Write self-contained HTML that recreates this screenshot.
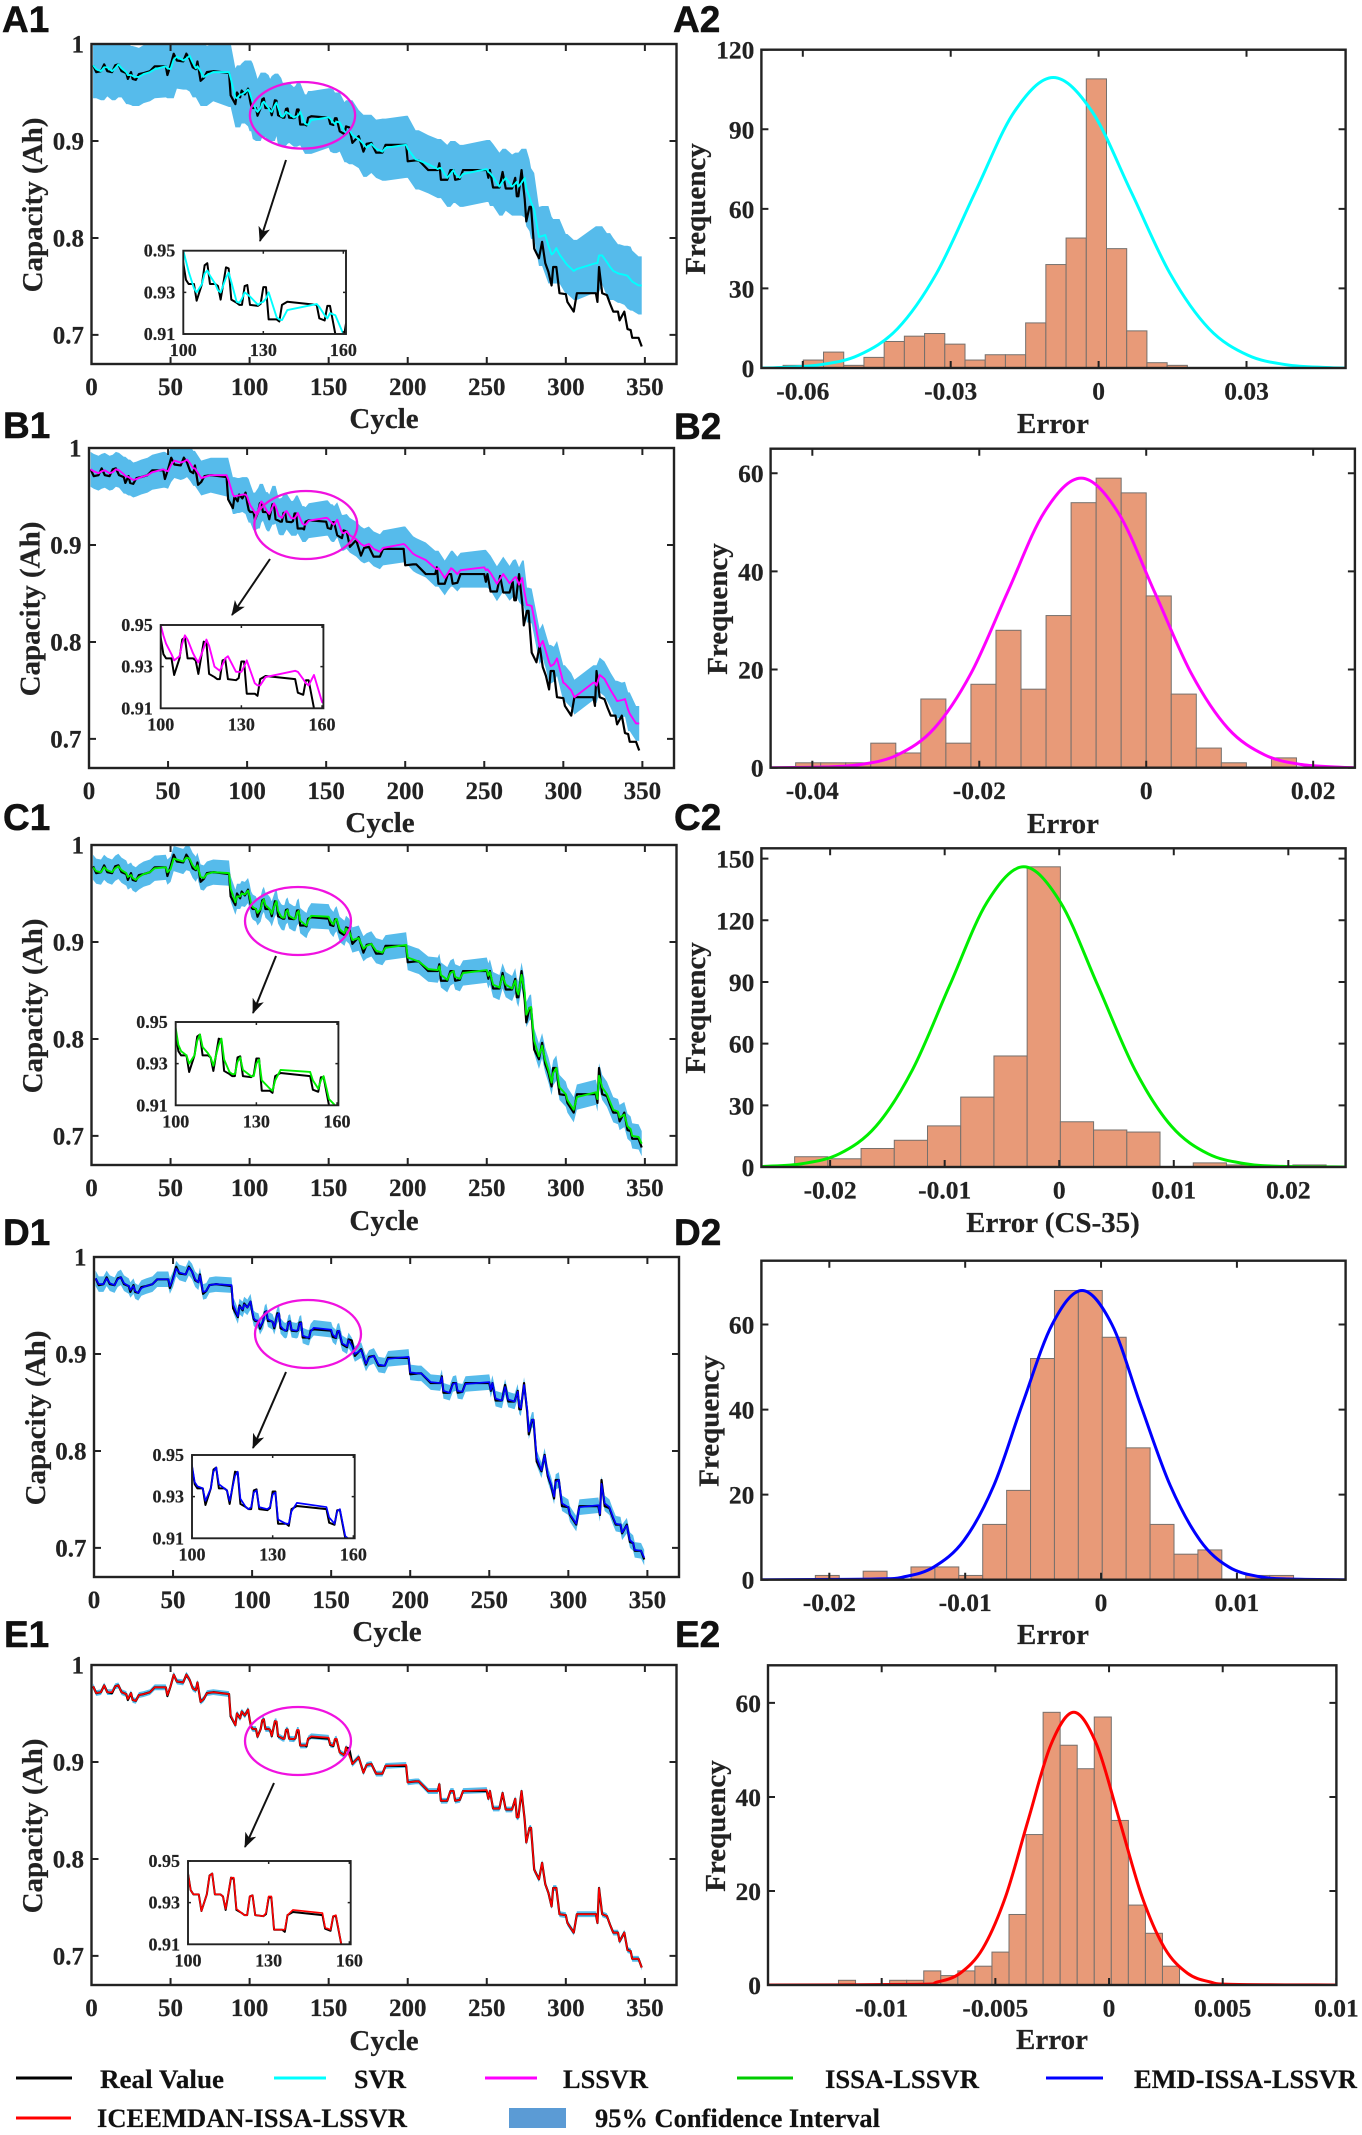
<!DOCTYPE html>
<html lang="en">
<head>
<meta charset="utf-8">
<title>Capacity prediction and error histograms</title>
<style>
html,body{margin:0;padding:0;background:#fff;width:1362px;height:2135px;overflow:hidden;}
svg{display:block;overflow:hidden;}
script{display:none;}
text{font-family:"Liberation Serif",serif;font-weight:bold;fill:#222;stroke:#222;stroke-width:.2;}
.plabel{font-family:"Liberation Sans",sans-serif;font-size:37px;fill:#111;stroke:#111;stroke-width:.5;}
.atitle{font-size:29px;}
.legend{font-size:26px;fill:#111;}
</style>
</head>
<body>
<svg id="fig" xmlns="http://www.w3.org/2000/svg" width="1362" height="2135" viewBox="0 0 1362 2135">
<defs id="defs">
<marker id="arrowhead" markerUnits="userSpaceOnUse" markerWidth="16" markerHeight="12" refX="14" refY="6" orient="auto"><path d="M0,0 L15,6 L0,12 L4,6 Z" fill="#111"/></marker>
</defs>
<rect x="0" y="0" width="1362" height="2135" fill="#fff"/>
<g id="charts"></g>

<g fill="none" stroke="#f012e0" stroke-width="2.3">
<ellipse cx="302.5" cy="115.3" rx="52.6" ry="33.3"/>
<ellipse cx="305.8" cy="525" rx="51.5" ry="34"/>
<ellipse cx="298" cy="921" rx="53" ry="34"/>
<ellipse cx="308" cy="1334" rx="53" ry="34"/>
<ellipse cx="298" cy="1741" rx="53" ry="34"/>
</g>
<g stroke="#111" stroke-width="2" fill="none">
<line x1="286" y1="160" x2="260" y2="241" marker-end="url(#arrowhead)"/>
<line x1="270" y1="559" x2="232" y2="615" marker-end="url(#arrowhead)"/>
<line x1="276" y1="956" x2="253" y2="1013" marker-end="url(#arrowhead)"/>
<line x1="286" y1="1372" x2="253" y2="1448" marker-end="url(#arrowhead)"/>
<line x1="274" y1="1783" x2="245" y2="1847" marker-end="url(#arrowhead)"/>
</g>

<g>
<text class="plabel" x="2" y="32">A1</text>
<text class="plabel" x="673" y="32">A2</text>
<text class="plabel" x="3" y="438">B1</text>
<text class="plabel" x="674" y="439">B2</text>
<text class="plabel" x="3" y="830">C1</text>
<text class="plabel" x="674" y="830">C2</text>
<text class="plabel" x="3" y="1245">D1</text>
<text class="plabel" x="674" y="1245">D2</text>
<text class="plabel" x="4" y="1647">E1</text>
<text class="plabel" x="675" y="1647">E2</text>
</g>

<g>
<text class="atitle" x="384" y="428" text-anchor="middle">Cycle</text>
<text class="atitle" x="380" y="832" text-anchor="middle">Cycle</text>
<text class="atitle" x="384" y="1230" text-anchor="middle">Cycle</text>
<text class="atitle" x="387" y="1641" text-anchor="middle">Cycle</text>
<text class="atitle" x="384" y="2050" text-anchor="middle">Cycle</text>
<text class="atitle" text-anchor="middle" transform="translate(42,205) rotate(-90)">Capacity (Ah)</text>
<text class="atitle" text-anchor="middle" transform="translate(39.5,609) rotate(-90)">Capacity (Ah)</text>
<text class="atitle" text-anchor="middle" transform="translate(42,1006) rotate(-90)">Capacity (Ah)</text>
<text class="atitle" text-anchor="middle" transform="translate(45,1418) rotate(-90)">Capacity (Ah)</text>
<text class="atitle" text-anchor="middle" transform="translate(42,1826) rotate(-90)">Capacity (Ah)</text>
<text class="atitle" x="1053" y="433" text-anchor="middle">Error</text>
<text class="atitle" x="1063" y="833" text-anchor="middle">Error</text>
<text class="atitle" x="1053" y="1232" text-anchor="middle">Error (CS-35)</text>
<text class="atitle" x="1053" y="1644" text-anchor="middle">Error</text>
<text class="atitle" x="1052" y="2049" text-anchor="middle">Error</text>
<text class="atitle" text-anchor="middle" transform="translate(705,209) rotate(-90)">Frequency</text>
<text class="atitle" text-anchor="middle" transform="translate(727,609) rotate(-90)">Frequency</text>
<text class="atitle" text-anchor="middle" transform="translate(705,1008) rotate(-90)">Frequency</text>
<text class="atitle" text-anchor="middle" transform="translate(718.5,1421) rotate(-90)">Frequency</text>
<text class="atitle" text-anchor="middle" transform="translate(725,1826) rotate(-90)">Frequency</text>
</g>

<g>
<g><line x1="16" x2="72" y1="2078" y2="2078" stroke="#000" stroke-width="3"/><text class="legend" x="100" y="2088" textLength="124" lengthAdjust="spacingAndGlyphs">Real Value</text></g>
<g><line x1="274" x2="326" y1="2078" y2="2078" stroke="#00ffff" stroke-width="3"/><text class="legend" x="354" y="2088" textLength="52" lengthAdjust="spacingAndGlyphs">SVR</text></g>
<g><line x1="485" x2="537" y1="2078" y2="2078" stroke="#ff00ff" stroke-width="3"/><text class="legend" x="563" y="2088" textLength="85" lengthAdjust="spacingAndGlyphs">LSSVR</text></g>
<g><line x1="737" x2="793" y1="2078" y2="2078" stroke="#00cc00" stroke-width="3"/><text class="legend" x="825" y="2088" textLength="154" lengthAdjust="spacingAndGlyphs">ISSA-LSSVR</text></g>
<g><line x1="1046" x2="1103" y1="2078" y2="2078" stroke="#0000ff" stroke-width="3"/><text class="legend" x="1134" y="2088" textLength="223" lengthAdjust="spacingAndGlyphs">EMD-ISSA-LSSVR</text></g>
<g><line x1="16" x2="71" y1="2118" y2="2118" stroke="#ff0000" stroke-width="3"/><text class="legend" x="97" y="2127" textLength="310" lengthAdjust="spacingAndGlyphs">ICEEMDAN-ISSA-LSSVR</text></g>
<g><rect x="509" y="2108" width="57" height="20" fill="#5b9bd5"/><text class="legend" x="595" y="2127" textLength="285" lengthAdjust="spacingAndGlyphs">95% Confidence Interval</text></g>
</g>
</svg>

<script>
/* ---------- capacity series ---------- */
const cycles = [
1,3,6,8,10,13,15,17,19,22,
23,25,26,28,30,33,37,40,47,48,
50,52,54,58,60,62,64,66,67,69,
71,73,77,87,88,91,92,94,95,97,
99,100,101,102,104,105,107,108,109,110,
112,113,114,116,117,118,120,121,122,123,
124,125,128,129,130,131,132,135,136,137,
139,150,151,153,154,155,157,160,161,163,
165,169,172,174,177,180,184,186,199,200,
205,207,213,219,220,221,225,227,229,230,
233,235,250,251,252,254,258,260,262,266,
268,269,270,272,274,275,277,278,280,283,
285,287,289,291,292,294,296,300,301,305,
307,319,320,321,323,326,328,330,333,334,
337,339,341,342,346,348];
const realValue = [
.978,.971,.972,.979,.972,.971,.978,.979,.972,.970,
.964,.971,.964,.963,.969,.970,.972,.977,.977,.968,
.978,.990,.983,.982,.990,.985,.976,.974,.982,.962,
.965,.971,.972,.970,.947,.938,.950,.945,.952,.948,
.954,.944,.936,.934,.934,.926,.934,.943,.944,.934,
.934,.933,.9265,.942,.9415,.9265,.925,.924,.924,.933,
.9335,.924,.9235,.9245,.9325,.9325,.917,.917,.916,.924,
.9255,.924,.9175,.9165,.9235,.9235,.910,.907,.915,.914,
.898,.905,.889,.897,.898,.888,.888,.896,.896,.879,
.880,.880,.870,.870,.877,.860,.860,.870,.870,.860,
.861,.870,.870,.862,.870,.852,.852,.868,.851,.851,
.862,.843,.843,.870,.840,.817,.832,.832,.789,.779,
.796,.774,.765,.751,.770,.770,.743,.742,.734,.724,
.743,.743,.734,.770,.743,.741,.732,.724,.724,.715,
.724,.706,.705,.697,.697,.688];
const svr = [
.978,.974,.972,.976,.976,.972,.975,.979,.975,.971,
.968,.968,.967,.966,.966,.969,.971,.974,.977,.975,
.974,.984,.987,.983,.985,.988,.981,.975,.977,.972,
.966,.968,.971,.971,.965,.945,.944,.948,.948,.950,
.953,.950,.945,.940,.932,.930,.934,.939,.9405,.938,
.934,.931,.930,.937,.9395,.935,.9255,.925,.927,.930,
.929,.928,.924,.925,.9255,.927,.930,.918,.917,.9167,
.9215,.9244,.923,.919,.9175,.920,.919,.910,.908,.912,
.906,.902,.897,.893,.897,.892,.889,.893,.896,.892,
.881,.880,.876,.871,.872,.872,.862,.866,.870,.866,
.862,.866,.871,.868,.867,.863,.853,.858,.862,.853,
.856,.858,.853,.857,.862,.851,.842,.837,.829,.801,
.802,.803,.792,.783,.784,.7895,.783,.774,.772,.766,
.768,.774,.774,.782,.782,.775,.770,.766,.7635,.763,
.762,.761,.757,.755,.751,.751];
const lssvr = [
.978,.976,.974,.976,.977,.974,.975,.978,.977,.973,
.971,.970,.969,.967,.968,.970,.972,.975,.978,.977,
.976,.983,.987,.985,.986,.988,.984,.979,.979,.974,
.969,.970,.972,.972,.968,.952,.950,.951,.951,.952,
.952,.950,.945,.941,.936,.933,.935,.941,.945,.943,
.9365,.934,.932,.939,.943,.940,.930,.929,.928,.931,
.934,.935,.9275,.9275,.9275,.930,.933,.922,.921,.921,
.925,.928,.9275,.924,.922,.921,.926,.913,.912,.914,
.910,.906,.901,.899,.901,.896,.893,.897,.901,.900,
.891,.889,.8845,.876,.875,.876,.866,.871,.876,.875,
.870,.874,.877,.874,.875,.871,.860,.865,.870,.8605,
.864,.866,.867,.859,.866,.855,.838,.838,.837,.812,
.795,.801,.790,.779,.775,.777,.783,.758,.757,.750,
.743,.758,.758,.755,.766,.762,.756,.750,.742,.739,
.740,.741,.730,.726,.716,.716];
const issaLssvr = [
.977,.973,.972,.977,.974,.972,.976,.978,.974,.971,
.967,.969,.966,.964,.967,.970,.972,.976,.977,.972,
.975,.986,.985,.983,.987,.986,.979,.975,.979,.967,
.966,.970,.972,.971,.955,.941,.947,.947,.950,.949,
.953,.947,.939,.936,.934,.930,.934,.941,.944,.938,
.935,.933,.929,.939,.942,.932,.926,.925,.925,.931,
.933,.927,.924,.924,.930,.932,.922,.918,.917,.922,
.927,.926,.922,.918,.922,.924,.913,.909,.914,.911,
.902,.904,.893,.896,.898,.891,.889,.894,.897,.884,
.881,.880,.872,.871,.875,.866,.861,.868,.870,.864,
.862,.868,.871,.865,.869,.856,.853,.865,.856,.852,
.860,.850,.846,.866,.848,.825,.832,.833,.798,.782,
.793,.778,.768,.755,.765,.770,.750,.743,.737,.727,
.740,.745,.738,.762,.750,.743,.735,.727,.725,.719,
.722,.710,.707,.700,.699,.692];
const emdIssaLssvr = [
.978,.972,.972,.978,.973,.971,.977,.979,.973,.970,
.966,.970,.965,.963,.968,.970,.972,.977,.977,.970,
.977,.988,.984,.982,.989,.985,.977,.974,.981,.964,
.965,.971,.972,.971,.951,.939,.949,.946,.951,.948,
.954,.945,.937,.935,.934,.928,.934,.942,.944,.936,
.934,.933,.928,.940,.942,.929,.925,.924,.925,.932,
.933,.925,.924,.925,.931,.932,.919,.917,.917,.923,
.927,.925,.920,.917,.923,.924,.911,.908,.914,.909,
.900,.904,.890,.896,.898,.889,.888,.895,.897,.881,
.880,.880,.871,.870,.876,.862,.860,.869,.870,.862,
.861,.869,.871,.863,.870,.854,.852,.866,.853,.851,
.861,.846,.844,.868,.843,.820,.832,.832,.793,.780,
.795,.776,.766,.753,.768,.770,.746,.742,.735,.725,
.742,.744,.735,.766,.746,.742,.733,.725,.724,.716,
.723,.708,.705,.698,.697,.690];
const iceemdanIssaLssvr = [
.978,.971,.972,.979,.972,.972,.978,.979,.972,.970,
.965,.971,.964,.963,.969,.970,.972,.977,.977,.969,
.978,.990,.983,.982,.990,.985,.976,.974,.982,.962,
.965,.971,.972,.970,.948,.938,.950,.945,.952,.948,
.954,.944,.936,.934,.934,.926,.934,.943,.944,.934,
.934,.933,.927,.942,.942,.927,.925,.924,.924,.933,
.9335,.924,.9235,.925,.933,.933,.917,.917,.917,.924,
.9265,.925,.918,.917,.9235,.924,.910,.907,.915,.907,
.898,.905,.889,.897,.898,.888,.888,.896,.897,.879,
.880,.880,.870,.870,.877,.860,.860,.870,.870,.860,
.861,.870,.871,.862,.870,.852,.852,.868,.851,.851,
.862,.843,.843,.870,.840,.817,.832,.832,.789,.779,
.796,.774,.765,.751,.770,.770,.743,.742,.734,.724,
.743,.743,.734,.770,.743,.741,.732,.724,.724,.715,
.724,.706,.705,.697,.697,.688];
/* half width of the 95% interval per model */
const svrCi = 0.030, lssvrCi = 0.018, issaCi = 0.013, emdCi = 0.008, iceemdanCi = 0.003;

/* ---------- capacity axes ticks ---------- */
const capacityXTicks = [0,50,100,150,200,250,300,350];
const capacityYTicks = [0.7,0.8,0.9,1];
const insetXTicks = [100,130,160];
const insetYTicks = [0.91,0.93,0.95];

/* ---------- histograms (bin start, bin width, counts, fit curve points) ---------- */
const a2Counts = [1,3,6,1,4,10,12,13,9,3,5,5,17,39,49,109,45,14,2,1];
const a2BinStart = -0.064, a2BinWidth = 0.0041;
const a2FitX = [-0.0684,-0.0645,-0.0566,-0.0487,-0.0408,-0.0329,-0.0250,-0.0171,-0.0092,-0.0013,0.0066,0.0145,0.0224,0.0303,0.0382,0.0461,0.0501];
const a2FitY = [0,0.2,1.2,4.8,14.8,35.6,66.4,96.6,109.5,96.6,66.4,35.6,14.8,4.8,1.2,0.2,0];
const a2XTicks = [-0.06,-0.03,0,0.03];
const a2YTicks = [0,30,60,90,120];

const b2Counts = [1,1,1,5,3,14,5,17,28,16,31,54,59,56,35,15,4,1,0,2];
const b2BinStart = -0.042, b2BinWidth = 0.0030;
const b2FitX = [-0.045,-0.0386,-0.0342,-0.0298,-0.0254,-0.0210,-0.0166,-0.0122,-0.0078,-0.0034,0.0010,0.0054,0.0098,0.0142,0.0186,0.0230,0.025];
const b2FitY = [0,0.13,0.65,2.6,8,19.2,35.8,52.1,59,52.1,35.8,19.2,8,2.6,0.65,0.13,0];
const b2XTicks = [-0.04,-0.02,0,0.02];
const b2YTicks = [0,20,40,60];

const c2Counts = [5,4,9,13,20,34,54,146,22,18,17,0,2,1,0,1];
const c2BinStart = -0.0231, c2BinWidth = 0.0029;
const c2FitX = [-0.026,-0.0257,-0.02245,-0.0192,-0.0160,-0.0128,-0.00955,-0.0063,-0.0031,0.0001,0.00335,0.0066,0.0098,0.0130,0.01625,0.0195,0.025];
const c2FitY = [0.2,0.3,1.6,6.4,19.8,47.4,88.5,128.8,146,128.8,88.5,47.4,19.8,6.4,1.6,0.3,0];
const c2XTicks = [-0.02,-0.01,0,0.01,0.02];
const c2YTicks = [0,30,60,90,120,150];

const d2Counts = [1,0,2,0,3,3,1,13,21,52,68,68,57,31,13,6,7,0,1,1];
const d2BinStart = -0.02103, d2BinWidth = 0.00176;
const d2FitX = [-0.025,-0.0166,-0.0144,-0.0123,-0.0101,-0.0079,-0.0058,-0.0036,-0.0014,0.0008,0.0029,0.0051,0.0073,0.0094,0.0116,0.0138,0.018];
const d2FitY = [0,0.15,0.75,3,9.2,22.1,41.2,60,68,60,41.2,22.1,9.2,3,0.75,0.15,0];
const d2XTicks = [-0.02,-0.01,0,0.01];
const d2YTicks = [0,20,40,60];

const e2Counts = [1,0,0,1,1,3,2,3,4,7,15,32,58,51,46,57,35,17,11,4];
const e2BinStart = -0.0119, e2BinWidth = 0.00075;
const e2FitX = [-0.015,-0.00855,-0.00755,-0.00655,-0.00555,-0.00455,-0.00355,-0.00255,-0.00155,-0.00055,0.00045,0.00145,0.00245,0.00345,0.00445,0.00545,0.01];
const e2FitY = [0,0.13,0.64,2.5,7.8,18.8,35.2,51.2,58,51.2,35.2,18.8,7.8,2.5,0.64,0.13,0];
const e2XTicks = [-0.01,-0.005,0,0.005,0.01];
const e2YTicks = [0,20,40,60];

/* ---------- layout ---------- */
const capacityPanels = [
 {id:'a1',l:91.5,t:44,  pred:svr,              ci:svrCi,     env:2,color:'#00ffff', ix:183.3,iy:250.7,ixMax:161,  w:1.9},
 {id:'b1',l:89,  t:448, pred:lssvr,            ci:lssvrCi,   env:1,color:'#ff00ff', ix:160.7,iy:625,  ixMax:160.5,w:1.9},
 {id:'c1',l:91.5,t:845, pred:issaLssvr,        ci:issaCi,    env:0,color:'#00ee00', ix:175.7,iy:1022, ixMax:160.5,w:1.9},
 {id:'d1',l:94,  t:1257,pred:emdIssaLssvr,     ci:emdCi,     env:0,color:'#0000ff', ix:192,  iy:1455, ixMax:160.5,w:1.7},
 {id:'e1',l:91.5,t:1665,pred:iceemdanIssaLssvr,ci:iceemdanCi,env:0,color:'#ff0000', ix:188,  iy:1861, ixMax:160.5,w:1.6}
];
const histPanels = [
 {id:'a2',l:761.4,r:1345.6,t:49.7, b:368,   xmin:-0.0684,xmax:0.0501,ymax:120,counts:a2Counts,start:a2BinStart,width:a2BinWidth,fx:a2FitX,fy:a2FitY,xt:a2XTicks,yt:a2YTicks,color:'#00ffff'},
 {id:'b2',l:770.6,r:1354.9,t:448.7,b:767.7, xmin:-0.045, xmax:0.025, ymax:65, counts:b2Counts,start:b2BinStart,width:b2BinWidth,fx:b2FitX,fy:b2FitY,xt:b2XTicks,yt:b2YTicks,color:'#ff00ff'},
 {id:'c2',l:761.4,r:1345.6,t:848.3,b:1167,  xmin:-0.026, xmax:0.025, ymax:155,counts:c2Counts,start:c2BinStart,width:c2BinWidth,fx:c2FitX,fy:c2FitY,xt:c2XTicks,yt:c2YTicks,color:'#00ee00'},
 {id:'d2',l:761.4,r:1345.6,t:1260.7,b:1579.7,xmin:-0.025,xmax:0.018, ymax:75, counts:d2Counts,start:d2BinStart,width:d2BinWidth,fx:d2FitX,fy:d2FitY,xt:d2XTicks,yt:d2YTicks,color:'#0000ff'},
 {id:'e2',l:768,  r:1336.4,t:1665.3,b:1985, xmin:-0.015, xmax:0.01,  ymax:68, counts:e2Counts,start:e2BinStart,width:e2BinWidth,fx:e2FitX,fy:e2FitY,xt:e2XTicks,yt:e2YTicks,color:'#ff0000'}
];

const NS = 'http://www.w3.org/2000/svg';
const root = document.getElementById('charts');
const defs = document.getElementById('defs');
const INK = '#222';

function mk(tag, attrs, parent){
  const e = document.createElementNS(NS, tag);
  for (const k in attrs) e.setAttribute(k, attrs[k]);
  parent.appendChild(e);
  return e;
}
function linePath(xs, ys, sx, sy){
  let d = '';
  for (let i = 0; i < xs.length; i++) d += (i ? 'L' : 'M') + sx(xs[i]).toFixed(2) + ',' + sy(ys[i]).toFixed(2);
  return d;
}
function smoothPath(xs, ys, sx, sy){
  const p = xs.map((x, i) => [sx(x), sy(ys[i])]);
  let d = 'M' + p[0][0].toFixed(2) + ',' + p[0][1].toFixed(2);
  for (let i = 0; i < p.length - 1; i++){
    const a = p[Math.max(i - 1, 0)], b = p[i], c = p[i + 1], e = p[Math.min(i + 2, p.length - 1)];
    const c1x = b[0] + (c[0] - a[0]) / 6, c1y = Math.min(b[1] + (c[1] - a[1]) / 6, sy(0));
    const c2x = c[0] - (e[0] - b[0]) / 6, c2y = Math.min(c[1] - (e[1] - b[1]) / 6, sy(0));
    d += 'C' + c1x.toFixed(2) + ',' + c1y.toFixed(2) + ' ' + c2x.toFixed(2) + ',' + c2y.toFixed(2) + ' ' + c[0].toFixed(2) + ',' + c[1].toFixed(2);
  }
  return d;
}
function addClip(id, x, y, w, h){
  const c = mk('clipPath', {id: id}, defs);
  mk('rect', {x: x, y: y, width: w, height: h}, c);
  return 'url(#' + id + ')';
}
/* envelope of the prediction within +/-span cycles, so a wide interval stays full across steep steps */
function envelope(series, i, pick, span){
  let v = series[i];
  if (!span) return v;
  for (let j = i - 1; j >= 0 && cycles[i] - cycles[j] <= span; j--) v = pick(v, series[j]);
  for (let j = i + 1; j < series.length && cycles[j] - cycles[i] <= span; j++) v = pick(v, series[j]);
  return v;
}

/* ---------- capacity panels ---------- */
capacityPanels.forEach(function(p){
  const W = 585, H = 320, XMAX = 370, YMIN = 0.67, YMAX = 1;
  const sx = v => p.l + v / XMAX * W;
  const sy = v => p.t + (YMAX - v) / (YMAX - YMIN) * H;
  const g = mk('g', {}, root);
  
  
  const clip = addClip('clip-' + p.id, p.l, p.t, W, H);
  const plot = mk('g', {'clip-path': clip}, g);
  
  

  let upper = '', lower = '';
  for (let i = 0; i < cycles.length; i++){
    upper += (i ? 'L' : 'M') + sx(cycles[i]).toFixed(2) + ',' + sy(envelope(p.pred, i, Math.max, p.env) + p.ci).toFixed(2);
  }
  for (let i = cycles.length - 1; i >= 0; i--){
    lower += 'L' + sx(cycles[i]).toFixed(2) + ',' + sy(envelope(p.pred, i, Math.min, p.env) - p.ci).toFixed(2);
  }
  const band = mk('path', {d: upper + lower + 'Z', fill: '#56bbeb', stroke: 'none'}, plot);
  
  

  const rl = mk('path', {d: linePath(cycles, realValue, sx, sy), fill: 'none', stroke: '#000', 'stroke-width': 2.2, 'stroke-linejoin': 'round'}, plot);
  
  
  const pl = mk('path', {d: linePath(cycles, p.pred, sx, sy), fill: 'none', stroke: p.color, 'stroke-width': p.w, 'stroke-linejoin': 'round'}, plot);
  
  

  capacityXTicks.forEach(function(v){
    const t1 = mk('path', {d: 'M' + sx(v) + ',' + (p.t + H) + 'v-7M' + sx(v) + ',' + p.t + 'v7', stroke: INK, 'stroke-width': 2}, g);
    
    
    const lb = mk('text', {x: sx(v), y: p.t + H + 31, 'text-anchor': 'middle', 'font-size': 25}, g);
    
    
    lb.textContent = String(v);
  });
  capacityYTicks.forEach(function(v){
    const t1 = mk('path', {d: 'M' + p.l + ',' + sy(v) + 'h7M' + (p.l + W) + ',' + sy(v) + 'h-7', stroke: INK, 'stroke-width': 2}, g);
    
    
    const lb = mk('text', {x: p.l - 7.5, y: sy(v) + 8.5, 'text-anchor': 'end', 'font-size': 25}, g);
    
    
    lb.textContent = String(v);
  });
  const frame = mk('rect', {x: p.l, y: p.t, width: W, height: H, fill: 'none', stroke: INK, 'stroke-width': 2.4}, g);
  
  

  /* inset: only the cycles inside the zoom window are drawn */
  const IW = 162.7, IH = 83.3, IXMIN = 100, IYMIN = 0.91, IYMAX = 0.95;
  const ix = v => p.ix + (v - IXMIN) / (p.ixMax - IXMIN) * IW;
  const iy = v => p.iy + (IYMAX - v) / (IYMAX - IYMIN) * IH;
  const inWindow = c => c >= IXMIN - 1 && c <= p.ixMax + 2;
  const zoomCycles = cycles.filter(inWindow);
  const zoomReal = realValue.filter((v, i) => inWindow(cycles[i]));
  const zoomPred = p.pred.filter((v, i) => inWindow(cycles[i]));
  const ig = mk('g', {}, g);
  
  
  const ibg = mk('rect', {x: p.ix, y: p.iy, width: IW, height: IH, fill: '#fff'}, ig);
  
  
  const iclip = addClip('iclip-' + p.id, p.ix, p.iy, IW, IH);
  const iplot = mk('g', {'clip-path': iclip}, ig);
  
  
  const irl = mk('path', {d: linePath(zoomCycles, zoomReal, ix, iy), fill: 'none', stroke: '#000', 'stroke-width': 2, 'stroke-linejoin': 'round'}, iplot);
  
  
  const ipl = mk('path', {d: linePath(zoomCycles, zoomPred, ix, iy), fill: 'none', stroke: p.color, 'stroke-width': p.w, 'stroke-linejoin': 'round'}, iplot);
  
  
  insetXTicks.forEach(function(v){
    const t1 = mk('path', {d: 'M' + ix(v) + ',' + (p.iy + IH) + 'v-3M' + ix(v) + ',' + p.iy + 'v3', stroke: INK, 'stroke-width': 1.5}, ig);
    
    
    const lb = mk('text', {x: ix(v), y: p.iy + IH + 22, 'text-anchor': 'middle', 'font-size': 18}, ig);
    
    
    lb.textContent = String(v);
  });
  insetYTicks.forEach(function(v){
    const t1 = mk('path', {d: 'M' + p.ix + ',' + iy(v) + 'h3M' + (p.ix + IW) + ',' + iy(v) + 'h-3', stroke: INK, 'stroke-width': 1.5}, ig);
    
    
    const lb = mk('text', {x: p.ix - 8, y: iy(v) + 6, 'text-anchor': 'end', 'font-size': 18}, ig);
    
    
    lb.textContent = String(v);
  });
  const iframe = mk('rect', {x: p.ix, y: p.iy, width: IW, height: IH, fill: 'none', stroke: INK, 'stroke-width': 1.9}, ig);
  
  
});

/* ---------- histogram panels ---------- */
histPanels.forEach(function(p){
  const sx = v => p.l + (v - p.xmin) / (p.xmax - p.xmin) * (p.r - p.l);
  const sy = v => p.b - v / p.ymax * (p.b - p.t);
  const g = mk('g', {}, root);
  
  
  const clip = addClip('clip-' + p.id, p.l, p.t, p.r - p.l, p.b - p.t);
  const plot = mk('g', {'clip-path': clip}, g);
  
  
  p.counts.forEach(function(c, i){
    if (!c) return;
    const x0 = sx(p.start + i * p.width), x1 = sx(p.start + (i + 1) * p.width);
    const bar = mk('rect', {x: x0, y: sy(c), width: x1 - x0, height: p.b - sy(c), fill: '#e89a78', stroke: '#76706c', 'stroke-width': 1}, plot);
    
    
  });
  const fit = mk('path', {d: smoothPath(p.fx, p.fy, sx, sy), fill: 'none', stroke: p.color, 'stroke-width': 3}, plot);
  
  
  p.xt.forEach(function(v){
    const t1 = mk('path', {d: 'M' + sx(v) + ',' + p.b + 'v-7M' + sx(v) + ',' + p.t + 'v7', stroke: INK, 'stroke-width': 2}, g);
    
    
    const lb = mk('text', {x: sx(v), y: p.b + 31.5, 'text-anchor': 'middle', 'font-size': 25.5}, g);
    
    
    lb.textContent = String(v);
  });
  p.yt.forEach(function(v){
    const t1 = mk('path', {d: 'M' + p.l + ',' + sy(v) + 'h7M' + p.r + ',' + sy(v) + 'h-7', stroke: INK, 'stroke-width': 2}, g);
    
    
    const lb = mk('text', {x: p.l - 7, y: sy(v) + 9, 'text-anchor': 'end', 'font-size': 25.5}, g);
    
    
    lb.textContent = String(v);
  });
  const frame = mk('rect', {x: p.l, y: p.t, width: p.r - p.l, height: p.b - p.t, fill: 'none', stroke: INK, 'stroke-width': 2.4}, g);
  
  
});
</script>
</body>
</html>
